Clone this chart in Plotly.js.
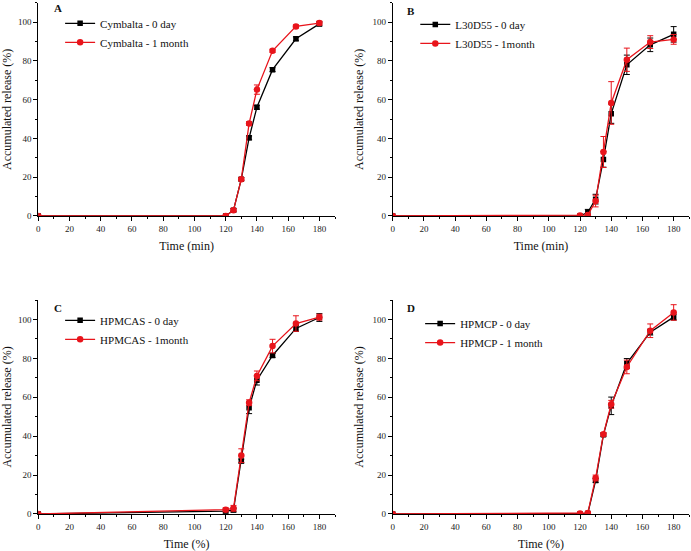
<!DOCTYPE html>
<html>
<head>
<meta charset="utf-8">
<script src="https://cdn.plot.ly/plotly-3.0.1.min.js"></script>
<style>
  body { margin: 0; background: #fff; }
  #chart { width: 691px; height: 551px; }
</style>
</head>
<body>
<div id="chart"></div>
<script>
// Sampling times (min)
const times = [0, 120, 125, 130, 135, 140, 150, 165, 180];

// Panel A - Cymbalta
const cymbalta0 = [0, 0, 3, 19, 40.3, 56.1, 75.5, 91.4, 99.1];
const cymbalta0Err = [0, 0, 0.8, 0.8, 1, 1, 1, 1, 1];
const cymbalta1 = [0, 0, 3, 19, 47.7, 65.2, 85.2, 97.8, 99.5];
const cymbalta1Err = [0, 0, 0.8, 0.8, 1, 2.4, 0.8, 0.8, 1];

// Panel B - L30D55
const l30d55_0 = [0, 0, 1.9, 8.7, 29.2, 52.8, 78, 88.3, 93.7];
const l30d55_0Err = [0, 0, 1.5, 2.5, 4, 5, 5, 3.5, 4];
const l30d55_1 = [0, 0.3, 0.5, 7.7, 33, 58.3, 80.6, 89.7, 91.1];
const l30d55_1Err = [0, 0, 0.5, 3, 8, 11, 6, 3.3, 2.5];

// Panel C - HPMCAS
const hpmcas0 = [0, 1.5, 2, 27.2, 54.6, 68.8, 81.5, 95.4, 101];
const hpmcas0Err = [0, 1, 1, 1, 3, 2.5, 1, 1.5, 2];
const hpmcas1 = [0, 2.2, 2.9, 30, 57.2, 71, 86.3, 97.9, 101.2];
const hpmcas1Err = [0, 1, 1.5, 3.5, 1.5, 2.5, 3.5, 4, 1.5];

// Panel D - HPMCP
const hpmcp0 = [0, 0, 0.3, 17.2, 40.7, 55.6, 77.4, 93.5, 101.2];
const hpmcp0Err = [0, 0, 0.5, 1, 0.8, 4.5, 2.5, 1.5, 1.5];
const hpmcp1 = [0, 0.2, 0.5, 18.5, 41, 56.4, 75.6, 94.2, 103.6];
const hpmcp1Err = [0, 0, 0.5, 1.5, 0.8, 2, 3.5, 3.5, 4];

const FONT = 'Liberation Serif, Times New Roman, serif';

function makeTrace(y, err, name, color, symbol, n) {
    const sfx = n === 1 ? '' : String(n);
    return {
        x: times,
        y: y,
        name: name,
        type: 'scatter',
        mode: 'lines+markers',
        xaxis: 'x' + sfx,
        yaxis: 'y' + sfx,
        legend: 'legend' + sfx,
        line: { color: color, width: 1.3 },
        marker: { color: color, symbol: symbol, size: symbol === 'square' ? 5.5 : 6.5 },
        error_y: { type: 'data', array: err, visible: true, color: color, thickness: 1, width: 3 }
    };
}

const traces = [
    makeTrace(cymbalta0, cymbalta0Err, 'Cymbalta - 0 day', '#000000', 'square', 1),
    makeTrace(cymbalta1, cymbalta1Err, 'Cymbalta - 1 month', '#e8141b', 'circle', 1),
    makeTrace(l30d55_0, l30d55_0Err, 'L30D55 - 0 day', '#000000', 'square', 2),
    makeTrace(l30d55_1, l30d55_1Err, 'L30D55 - 1month', '#e8141b', 'circle', 2),
    makeTrace(hpmcas0, hpmcas0Err, 'HPMCAS - 0 day', '#000000', 'square', 3),
    makeTrace(hpmcas1, hpmcas1Err, 'HPMCAS - 1month', '#e8141b', 'circle', 3),
    makeTrace(hpmcp0, hpmcp0Err, 'HPMCP - 0 day', '#000000', 'square', 4),
    makeTrace(hpmcp1, hpmcp1Err, 'HPMCP - 1 month', '#e8141b', 'circle', 4)
];

function xAxis(domain, anchor, title) {
    return {
        domain: domain, anchor: anchor, range: [0, 190],
        tickvals: [0, 20, 40, 60, 80, 100, 120, 140, 160, 180],
        ticks: 'outside', ticklen: 4, tickcolor: '#000',
        minor: { ticks: 'outside', dtick: 10, tick0: 0, ticklen: 2, tickcolor: '#000' },
        showline: true, linecolor: '#000', linewidth: 1,
        showgrid: false, zeroline: false,
        tickfont: { family: FONT, size: 9, color: '#222' },
        title: { text: title, font: { family: FONT, size: 12, color: '#111' }, standoff: 8 }
    };
}

function yAxis(domain, anchor) {
    return {
        domain: domain, anchor: anchor, range: [0, 110],
        tickvals: [0, 20, 40, 60, 80, 100],
        ticks: 'outside', ticklen: 4, tickcolor: '#000',
        minor: { ticks: 'outside', dtick: 10, tick0: 0, ticklen: 2, tickcolor: '#000' },
        showline: true, linecolor: '#000', linewidth: 1,
        showgrid: false, zeroline: false,
        tickfont: { family: FONT, size: 9, color: '#222' },
        title: { text: 'Accumulated release (%)', font: { family: FONT, size: 12, color: '#111' }, standoff: 6 }
    };
}

function legendAt(x, y) {
    return {
        x: x, y: y, xanchor: 'left', yanchor: 'top',
        bgcolor: 'rgba(0,0,0,0)', borderwidth: 0,
        font: { family: FONT, size: 11, color: '#111' },
        itemwidth: 30, tracegroupgap: 0
    };
}

const colL = [0.0554, 0.4848];
const colR = [0.5683, 0.9975];
const rowT = [0.608, 0.995];
const rowB = [0.0672, 0.4555];

const layout = {
    width: 691,
    height: 551,
    margin: { l: 0, r: 0, t: 0, b: 0 },
    paper_bgcolor: '#fff',
    plot_bgcolor: '#fff',
    showlegend: true,
    xaxis: xAxis(colL, 'y', 'Time (min)'),
    yaxis: yAxis(rowT, 'x'),
    xaxis2: xAxis(colR, 'y2', 'Time (min)'),
    yaxis2: yAxis(rowT, 'x2'),
    xaxis3: xAxis(colL, 'y3', 'Time (%)'),
    yaxis3: yAxis(rowB, 'x3'),
    xaxis4: xAxis(colR, 'y4', 'Time (%)'),
    yaxis4: yAxis(rowB, 'x4'),
    legend: legendAt(0.087, 0.984),
    legend2: legendAt(0.601, 0.982),
    legend3: legendAt(0.087, 0.445),
    legend4: legendAt(0.608, 0.439),
    annotations: [
        { text: '<b>A</b>', x: 58, y: 8 },
        { text: '<b>B</b>', x: 411, y: 11 },
        { text: '<b>C</b>', x: 58, y: 308 },
        { text: '<b>D</b>', x: 411, y: 308 }
    ].map(a => ({
        text: a.text, xref: 'paper', yref: 'paper',
        x: a.x / 691, y: 1 - a.y / 551,
        xanchor: 'center', yanchor: 'middle', showarrow: false,
        font: { family: FONT, size: 11, color: '#111' }
    }))
};

Plotly.newPlot('chart', traces, layout, { displayModeBar: false, staticPlot: true });
</script>
</body>
</html>
